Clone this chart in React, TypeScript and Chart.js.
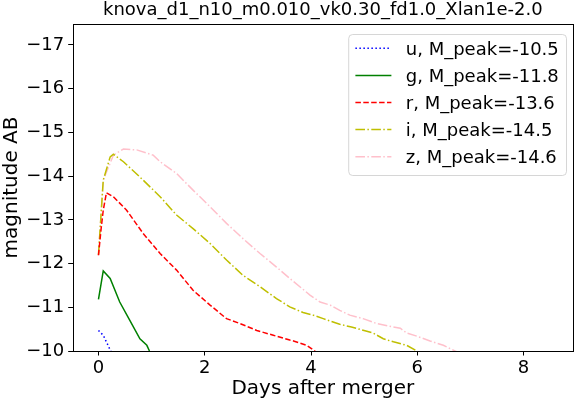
import React, { useEffect, useRef } from "react";
import { Chart, registerables } from "chart.js";

Chart.register(...registerables);

const TITLE = "knova_d1_n10_m0.010_vk0.30_fd1.0_Xlan1e-2.0";
const X_LABEL = "Days after merger";
const Y_LABEL = "magnitude AB";
const X_TICKS = [0, 2, 4, 6, 8];
const Y_TICKS = [-17, -16, -15, -14, -13, -12, -11, -10];

const uDays = [0, 0.09, 0.18, 0.23, 0.3];
const uMag = [-10.47, -10.36, -10.13, -10.0, -9.8];

const gDays = [0, 0.09, 0.22, 0.4, 0.59, 0.78, 0.91, 0.96, 1.05];
const gMag = [-11.18, -11.83, -11.66, -11.12, -10.7, -10.28, -10.13, -10.0, -9.8];

const rDays = [0, 0.05, 0.09, 0.15, 0.28, 0.53, 0.84, 1.16, 1.47, 1.78, 2.1, 2.41, 2.66, 2.98, 3.29, 3.6, 3.67, 3.92, 4.07, 4.2];
const rMag = [-12.19, -12.8, -13.22, -13.62, -13.53, -13.22, -12.69, -12.23, -11.85, -11.39, -11.05, -10.74, -10.63, -10.47, -10.36, -10.25, -10.23, -10.13, -10.0, -9.85];

const iDays = [0, 0.09, 0.22, 0.28, 0.47, 0.84, 1.16, 1.47, 1.78, 2.1, 2.41, 2.72, 3.04, 3.35, 3.6, 3.85, 4.04, 4.23, 4.54, 4.76, 5.05, 5.17, 5.36, 5.55, 5.8, 5.99, 6.1];
const iMag = [-12.2, -13.91, -14.44, -14.5, -14.33, -13.91, -13.53, -13.11, -12.8, -12.46, -12.08, -11.73, -11.47, -11.2, -11.01, -10.88, -10.82, -10.74, -10.61, -10.55, -10.45, -10.41, -10.28, -10.21, -10.13, -10.0, -9.9];

const zDays = [0, 0.09, 0.28, 0.47, 0.72, 1.03, 1.16, 1.47, 1.78, 2.1, 2.41, 2.72, 3.04, 3.35, 3.6, 3.98, 4.17, 4.36, 4.54, 4.73, 4.98, 5.23, 5.55, 5.68, 5.8, 5.99, 6.24, 6.49, 6.71, 6.9];
const zMag = [-12.19, -13.91, -14.48, -14.62, -14.6, -14.48, -14.33, -14.06, -13.68, -13.3, -12.92, -12.57, -12.23, -11.92, -11.66, -11.28, -11.12, -11.05, -10.93, -10.82, -10.74, -10.63, -10.55, -10.52, -10.41, -10.34, -10.23, -10.13, -10.0, -9.9];

const SERIES_LABELS = [
  "u, M_peak=-10.5",
  "g, M_peak=-11.8",
  "r, M_peak=-13.6",
  "i, M_peak=-14.5",
  "z, M_peak=-14.6",
];

const FONT = '"DejaVu Sans"';

const pts = (xs: number[], ys: number[]) => xs.map((x, k) => ({ x, y: ys[k] }));

const framePlugin = {
  id: "frame",
  afterDatasetsDraw(chart: any) {
    const { ctx, chartArea: a } = chart;
    ctx.save();
    ctx.strokeStyle = "#000";
    ctx.lineWidth = 1;
    ctx.strokeRect(Math.round(a.left) + 0.5, Math.round(a.top) + 0.5, Math.round(a.right) - Math.round(a.left), Math.round(a.bottom) - Math.round(a.top));
    ctx.restore();
  },
};

const legendPlugin = {
  id: "mplLegend",
  afterDraw(chart: any) {
    const { ctx, chartArea: a } = chart;
    ctx.save();
    ctx.font = `18px ${FONT}`;
    const ds = chart.data.datasets;
    const maxW = Math.max(...ds.map((d: any) => ctx.measureText(d.label).width));
    const pad = 7.2, handle = 36, gap = 14.4;
    const w = pad + handle + gap + maxW + pad;
    const right = a.right - 7;
    const top = a.top + 10;
    const h = 141;
    const left = right - w;
    ctx.beginPath();
    ctx.roundRect(left + 0.5, top + 0.5, w, h, 4);
    ctx.fillStyle = "rgba(255,255,255,0.8)";
    ctx.fill();
    ctx.strokeStyle = "rgba(204,204,204,0.8)";
    ctx.lineWidth = 1;
    ctx.stroke();
    ds.forEach((d: any, k: number) => {
      const cy = top + 14.3 + k * 27.1;
      ctx.beginPath();
      ctx.setLineDash(d.borderDash || []);
      ctx.strokeStyle = d.borderColor;
      ctx.lineWidth = d.borderWidth;
      ctx.moveTo(left + pad, cy);
      ctx.lineTo(left + pad + handle, cy);
      ctx.stroke();
      ctx.setLineDash([]);
      ctx.fillStyle = "#000";
      ctx.textBaseline = "alphabetic";
      ctx.textAlign = "left";
      ctx.fillText(d.label, left + pad + handle + gap, cy + 6.3);
    });
    ctx.restore();
  },
};

export default function App() {
  const ref = useRef<HTMLCanvasElement>(null);
  useEffect(() => {
    document.body.style.margin = "0";
    Chart.defaults.font.family = FONT;
    Chart.defaults.color = "#000";
    const tickFont = { family: FONT, size: 18 };
    const common = { borderWidth: 1.5, pointRadius: 0, tension: 0, clip: 0, fill: false };
    const chart = new Chart(ref.current as HTMLCanvasElement, {
      type: "line",
      data: {
        datasets: [
          { ...common, label: SERIES_LABELS[0], data: pts(uDays, uMag), borderColor: "#0000ff", borderDash: [1.5, 2.5] },
          { ...common, label: SERIES_LABELS[1], data: pts(gDays, gMag), borderColor: "#008000", borderDash: [] },
          { ...common, label: SERIES_LABELS[2], data: pts(rDays, rMag), borderColor: "#ff0000", borderDash: [5.5, 2.4] },
          { ...common, label: SERIES_LABELS[3], data: pts(iDays, iMag), borderColor: "#bfbf00", borderDash: [9.6, 2.4, 1.5, 2.4] },
          { ...common, label: SERIES_LABELS[4], data: pts(zDays, zMag), borderColor: "#ffc0cb", borderDash: [9.6, 2.4, 1.5, 2.4] },
        ] as any,
      },
      options: {
        responsive: false,
        animation: false,
        devicePixelRatio: 1,
        layout: { padding: { left: 0, right: 4, top: 0, bottom: 0 } },
        plugins: {
          legend: { display: false },
          tooltip: { enabled: false },
          title: {
            display: true,
            fullSize: false,
            text: TITLE,
            color: "#000",
            font: { family: FONT, size: 18, weight: "normal" },
            padding: { top: 0, bottom: 2.4 },
          },
        },
        scales: {
          x: {
            type: "linear",
            min: -0.485,
            max: 8.93,
            afterFit: (s: any) => {
              s.height = 53;
            },
            afterBuildTicks: (s: any) => {
              s.ticks = X_TICKS.map((v) => ({ value: v }));
            },
            ticks: { font: tickFont, color: "#000", padding: 2.5, maxRotation: 0, autoSkip: false, callback: (v: any) => String(v) },
            grid: { drawOnChartArea: false, drawTicks: true, tickLength: 4.5, color: "#000", lineWidth: 1 },
            border: { display: false },
            title: { display: true, text: X_LABEL, color: "#000", font: { family: FONT, size: 20 }, padding: { top: 0, bottom: 3 } },
          },
          y: {
            type: "linear",
            reverse: true,
            min: -17.48,
            max: -10,
            afterFit: (s: any) => {
              s.width = 72.7;
            },
            afterBuildTicks: (s: any) => {
              s.ticks = Y_TICKS.map((v) => ({ value: v }));
            },
            ticks: { font: tickFont, color: "#000", padding: 4, autoSkip: false, callback: (v: any) => (v < 0 ? "\u2212" : "") + Math.abs(v) },
            grid: { drawOnChartArea: false, drawTicks: true, tickLength: 4.5, color: "#000", lineWidth: 1 },
            border: { display: false },
            title: { display: true, text: Y_LABEL, color: "#000", font: { family: FONT, size: 20 }, padding: { top: 0, bottom: 0 } },
          },
        },
      } as any,
      plugins: [framePlugin, legendPlugin],
    });
    return () => chart.destroy();
  }, []);
  return (
    <div style={{ width: 577, height: 404 }}>
      <canvas ref={ref} width={577} height={404} style={{ display: "block" }} />
    </div>
  );
}
